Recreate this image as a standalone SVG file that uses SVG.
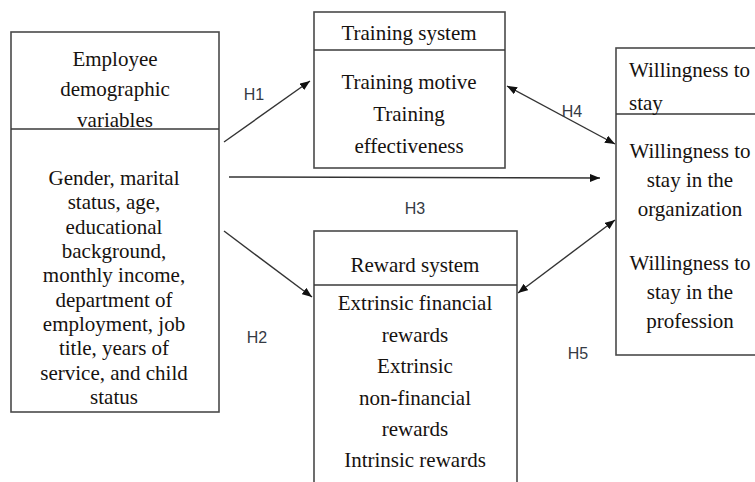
<svg xmlns="http://www.w3.org/2000/svg" width="755" height="482" viewBox="0 0 755 482">
  <style>
    .box { fill: #ffffff; stroke: #4a4a4a; stroke-width: 1.6; }
    .div { stroke: #3a3a3a; stroke-width: 1.6; }
    .t { font-family: "Liberation Serif", "Times New Roman", serif; font-size: 21px; fill: #16120f; text-anchor: middle; }
    .tl { font-family: "Liberation Serif", "Times New Roman", serif; font-size: 21px; fill: #16120f; }
    .h { font-family: "Liberation Sans", Arial, sans-serif; font-size: 16px; fill: #353a44; text-anchor: middle; }
    .conn { stroke: #333333; stroke-width: 1.4; fill: none; }
  </style>
  <defs>
    <marker id="arrowEnd" viewBox="0 0 10 8" refX="10" refY="4" markerWidth="10" markerHeight="8" markerUnits="userSpaceOnUse" orient="auto">
      <path d="M0,0 L10,4 L0,8 Z" fill="#111111"/>
    </marker>
    <marker id="arrowStart" viewBox="0 0 10 8" refX="0" refY="4" markerWidth="10" markerHeight="8" markerUnits="userSpaceOnUse" orient="auto">
      <path d="M10,0 L0,4 L10,8 Z" fill="#111111"/>
    </marker>
  </defs>
  <rect width="755" height="482" fill="#ffffff"/>

  <!-- Employee demographic variables -->
  <g id="demographics">
    <rect class="box" x="11" y="32" width="208" height="380"/>
    <line class="div" x1="11" y1="129" x2="219" y2="129"/>
    <text class="t" x="115" y="66">Employee</text>
    <text class="t" x="115" y="96">demographic</text>
    <text class="t" x="115" y="127">variables</text>
    <text class="t" x="114" y="185">Gender, marital</text>
    <text class="t" x="114" y="209">status, age,</text>
    <text class="t" x="114" y="234">educational</text>
    <text class="t" x="114" y="258">background,</text>
    <text class="t" x="114" y="282">monthly income,</text>
    <text class="t" x="114" y="307">department of</text>
    <text class="t" x="114" y="331">employment, job</text>
    <text class="t" x="114" y="355">title, years of</text>
    <text class="t" x="114" y="380">service, and child</text>
    <text class="t" x="114" y="404">status</text>
  </g>

  <!-- Training system -->
  <g id="training">
    <rect class="box" x="314" y="12" width="191" height="156"/>
    <line class="div" x1="314" y1="50" x2="505" y2="50"/>
    <text class="t" x="409" y="40">Training system</text>
    <text class="t" x="409" y="89">Training motive</text>
    <text class="t" x="409" y="121">Training</text>
    <text class="t" x="409" y="153">effectiveness</text>
  </g>

  <!-- Reward system -->
  <g id="reward">
    <rect class="box" x="314" y="231" width="203" height="270"/>
    <line class="div" x1="314" y1="285" x2="517" y2="285"/>
    <text class="t" x="415" y="272">Reward system</text>
    <text class="t" x="415" y="310">Extrinsic financial</text>
    <text class="t" x="415" y="342">rewards</text>
    <text class="t" x="415" y="373">Extrinsic</text>
    <text class="t" x="415" y="405">non-financial</text>
    <text class="t" x="415" y="436">rewards</text>
    <text class="t" x="415" y="467">Intrinsic rewards</text>
  </g>

  <!-- Willingness to stay -->
  <g id="willingness">
    <rect class="box" x="616" y="48" width="150" height="307"/>
    <line class="div" x1="616" y1="114" x2="766" y2="114"/>
    <text class="tl" x="629" y="77">Willingness to</text>
    <text class="tl" x="629" y="110">stay</text>
    <text class="t" x="690" y="158">Willingness to</text>
    <text class="t" x="690" y="187">stay in the</text>
    <text class="t" x="690" y="216">organization</text>
    <text class="t" x="690" y="270">Willingness to</text>
    <text class="t" x="690" y="299">stay in the</text>
    <text class="t" x="690" y="328">profession</text>
  </g>

  <!-- Hypothesis connectors -->
  <g id="connectors">
    <line class="conn" x1="224" y1="142" x2="310" y2="81" marker-end="url(#arrowEnd)"/>
    <line class="conn" x1="224" y1="231" x2="312" y2="297" marker-end="url(#arrowEnd)"/>
    <line class="conn" x1="229" y1="177" x2="600" y2="178" marker-end="url(#arrowEnd)"/>
    <line class="conn" x1="507" y1="86" x2="615" y2="144" marker-start="url(#arrowStart)" marker-end="url(#arrowEnd)"/>
    <line class="conn" x1="518" y1="293" x2="615" y2="220" marker-start="url(#arrowStart)" marker-end="url(#arrowEnd)"/>
    <text class="h" x="254" y="100">H1</text>
    <text class="h" x="257" y="343">H2</text>
    <text class="h" x="415" y="214">H3</text>
    <text class="h" x="572" y="117">H4</text>
    <text class="h" x="578" y="359">H5</text>
  </g>
</svg>
